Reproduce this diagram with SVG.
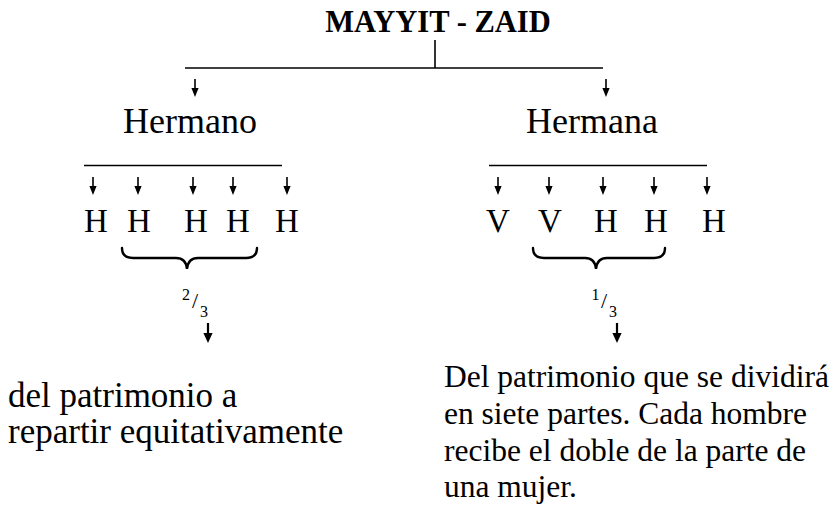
<svg xmlns="http://www.w3.org/2000/svg" width="832" height="510" viewBox="0 0 832 510">
<style>
.t{font-family:'Liberation Serif','Tinos','DejaVu Serif',serif;fill:#000}
.title{font-size:30.5px;font-weight:bold;text-anchor:middle}
.lvl1{font-size:36px;text-anchor:middle}
.lvl2{font-size:33px;text-anchor:middle}
.fr{font-size:16px;text-anchor:middle}
.sl{font-size:22px;text-anchor:middle}
.body{font-size:35px}
.body2{font-size:31.5px}
.ln{stroke:#000;stroke-width:1.6;fill:none}
.br{stroke:#000;stroke-width:2.4;fill:none;stroke-linecap:round}
</style>
<defs>
<g id="arr">
<line x1="0" y1="0" x2="0" y2="11" stroke="#000" stroke-width="1.6"/>
<polygon points="-3.6,9 3.6,9 0,18" fill="#000"/>
</g>
<g id="arrB">
<line x1="0" y1="0" x2="0" y2="12" stroke="#000" stroke-width="2.2"/>
<polygon points="-4.6,10 4.6,10 0,20" fill="#000"/>
</g>
</defs>
<rect width="832" height="510" fill="#fff"/>

<g id="connectors">
<line class="ln" x1="435" y1="40" x2="435" y2="68"/>
<line class="ln" x1="185" y1="68" x2="603" y2="68"/>
<use href="#arr" x="195" y="79"/>
<use href="#arr" x="606" y="79"/>
<line class="ln" x1="84" y1="165.5" x2="282" y2="165.5"/>
<use href="#arr" x="93" y="177"/>
<use href="#arr" x="138" y="177"/>
<use href="#arr" x="193" y="177"/>
<use href="#arr" x="233" y="177"/>
<use href="#arr" x="287" y="177"/>
<line class="ln" x1="489" y1="165.5" x2="707" y2="165.5"/>
<use href="#arr" x="498" y="177"/>
<use href="#arr" x="549" y="177"/>
<use href="#arr" x="603" y="177"/>
<use href="#arr" x="654" y="177"/>
<use href="#arr" x="707" y="177"/>
<path class="br" d="M122,248 Q122,258 133,258 L176,258 Q186,258 187,269 Q188,258 198,258 L246,258 Q257,258 257,248"/>
<path class="br" d="M533,248 Q533,258 544,258 L585,258 Q595,258 596,269 Q597,258 607,258 L654,258 Q665,258 665,248"/>
<use href="#arrB" x="208" y="323"/>
<use href="#arrB" x="617" y="323"/>
</g>

<g id="root"><text class="t title" x="438" y="32">MAYYIT - ZAID</text></g>
<g id="hermano"><text class="t lvl1" x="190" y="133">Hermano</text></g>
<g id="hermana"><text class="t lvl1" x="592" y="133">Hermana</text></g>

<g id="hermano-children">
<text class="t lvl2" x="96" y="232">H</text>
<text class="t lvl2" x="139" y="232">H</text>
<text class="t lvl2" x="196" y="232">H</text>
<text class="t lvl2" x="238" y="232">H</text>
<text class="t lvl2" x="287" y="232">H</text>
</g>
<g id="hermana-children">
<text class="t lvl2" x="498" y="232">V</text>
<text class="t lvl2" x="550" y="232">V</text>
<text class="t lvl2" x="606" y="232">H</text>
<text class="t lvl2" x="656" y="232">H</text>
<text class="t lvl2" x="714" y="232">H</text>
</g>

<g id="frac-left">
<text class="t fr" x="186" y="300">2</text>
<text class="t sl" x="195" y="308">/</text>
<text class="t fr" x="204" y="317">3</text>
</g>
<g id="frac-right">
<text class="t fr" x="595.5" y="300">1</text>
<text class="t sl" x="604" y="308">/</text>
<text class="t fr" x="613" y="317">3</text>
</g>

<g id="note-left">
<text class="t body" x="8" y="407">del patrimonio a</text>
<text class="t body" x="8" y="443">repartir equitativamente</text>
</g>
<g id="note-right">
<text class="t body2" x="444" y="387">Del patrimonio que se dividirá</text>
<text class="t body2" x="444" y="424">en siete partes. Cada hombre</text>
<text class="t body2" x="444" y="461">recibe el doble de la parte de</text>
<text class="t body2" x="444" y="497">una mujer.</text>
</g>
</svg>
